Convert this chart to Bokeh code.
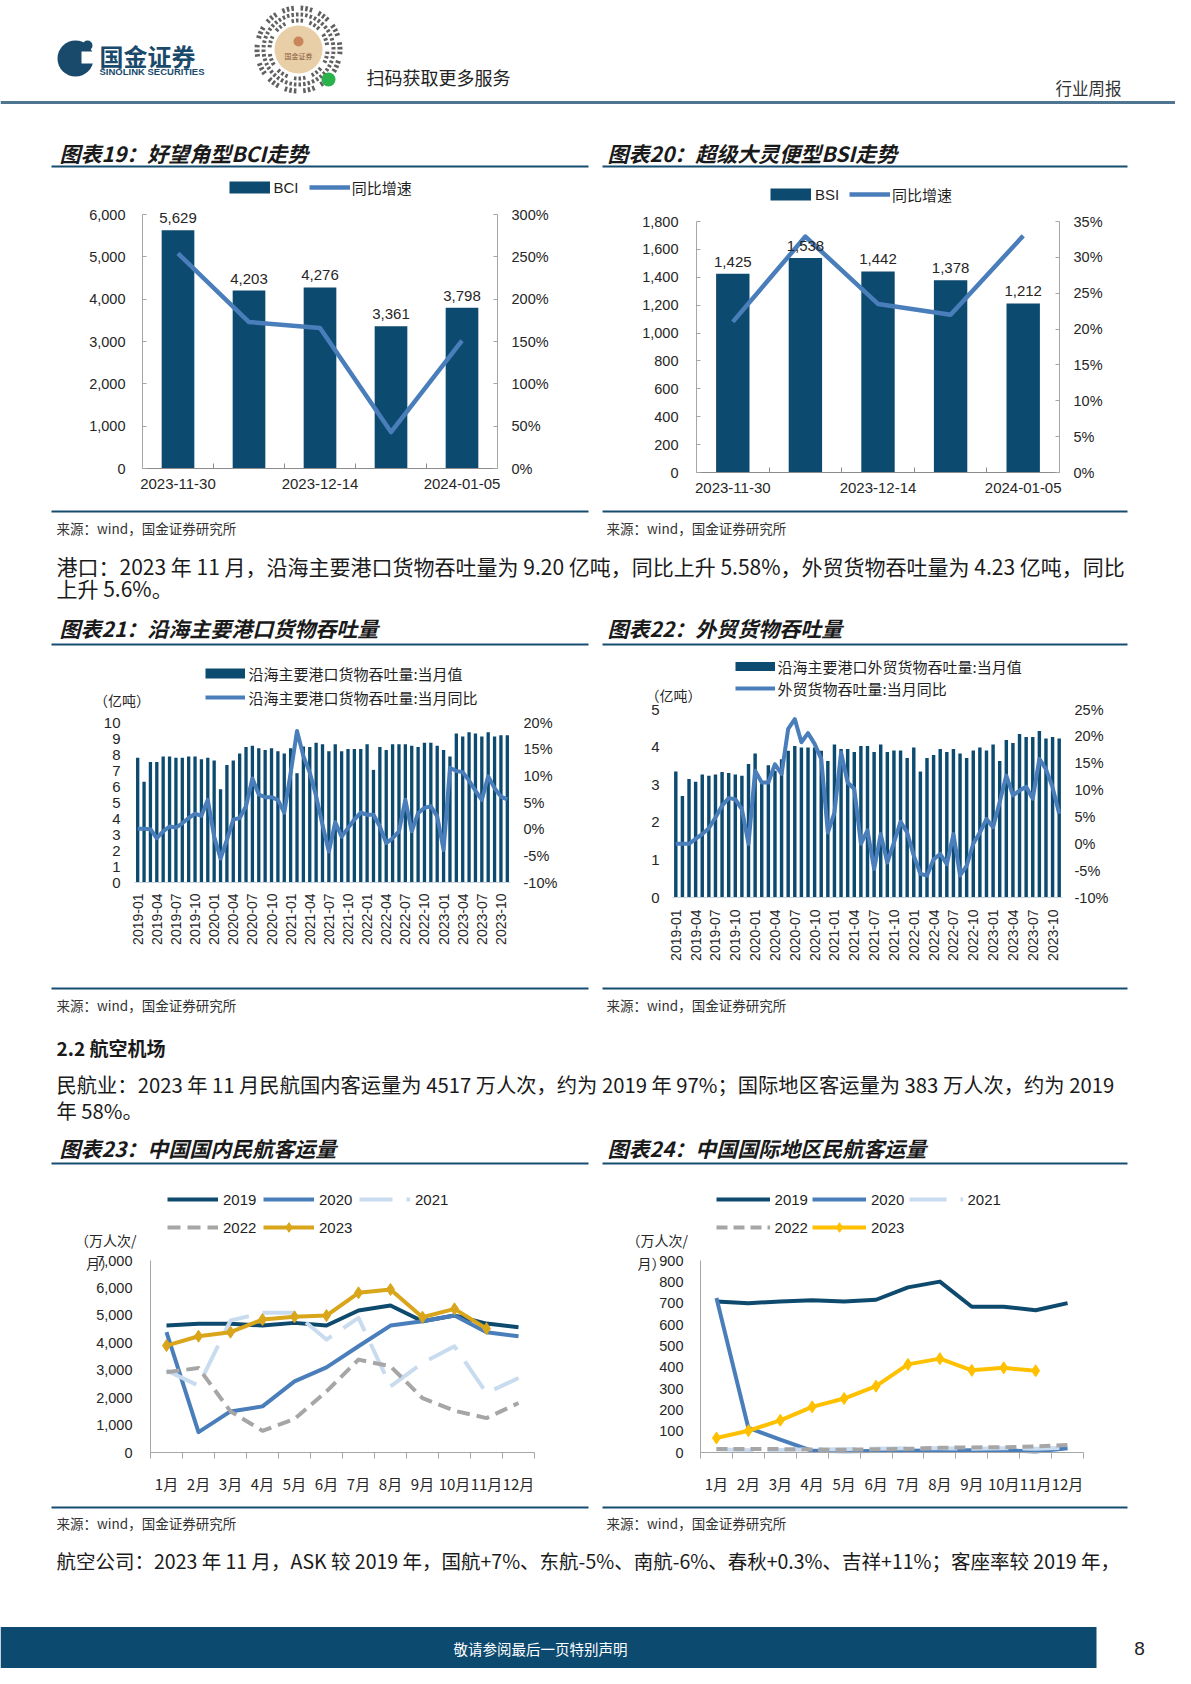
import math
from bokeh.plotting import figure
from bokeh.models import (Range1d, LinearAxis, FixedTicker, Legend, LegendItem,
                          Label, LabelSet, ColumnDataSource, NumeralTickFormatter)
from bokeh.layouts import column, row
from bokeh.embed import file_html
from bokeh.resources import INLINE
from bokeh.core.properties import value

# ---------------- data ----------------
bci_dates = ["2023-11-30", "2023-12-07", "2023-12-14", "2023-12-21", "2024-01-05"]
bci_values = [5629, 4203, 4276, 3361, 3798]
bci_yoy_pct = [254, 173, 166, 43, 151]

bsi_dates = ["2023-11-30", "2023-12-07", "2023-12-14", "2023-12-21", "2024-01-05"]
bsi_values = [1425, 1538, 1442, 1378, 1212]
bsi_yoy_pct = [21.0, 32.9, 23.5, 22.0, 33.0]

port_months = [f"{y}-{m:02d}" for y in range(2019, 2024) for m in range(1, 13)][:59]
port_total = [7.80, 6.29, 7.53, 7.53, 7.88, 7.88, 7.80, 7.80, 7.88, 7.88, 7.71, 7.80,
              7.63, 5.83, 7.34, 7.63, 8.07, 8.47, 8.55, 8.39, 8.28, 8.39, 8.20, 8.07,
              8.39, 6.83, 8.50, 8.47, 8.74, 8.64, 8.20, 8.64, 8.20, 8.34, 8.34, 8.34,
              8.64, 7.04, 8.47, 8.28, 8.64, 8.64, 8.64, 8.55, 8.47, 8.74, 8.74, 8.55,
              8.28, 7.88, 9.31, 9.12, 9.39, 9.31, 9.12, 9.39, 9.12, 9.20, 9.20]
port_yoy_pct = [0.1, 0.1, 0.0, -1.7, -0.4, 0.5, 0.3, 1.1, 2.1, 2.9, 2.5, 5.5,
                -1.4, -5.5, -2.0, 1.8, 2.1, 4.3, 9.5, 6.5, 6.0, 6.0, 5.5, 3.1,
                10.5, 18.4, 13.7, 10.6, 6.2, 0.8, -4.2, 1.3, -1.4, 0.2, 1.8, 3.1,
                2.7, 2.7, 0.5, -2.6, -1.7, -0.4, 5.5, -0.4, 3.0, 4.0, 4.3, 2.4,
                -3.9, 11.5, 10.9, 10.7, 9.1, 7.2, 5.5, 9.9, 7.7, 6.1, 5.58]

foreign_months = port_months
foreign_total = [3.35, 2.70, 3.15, 3.08, 3.27, 3.24, 3.27, 3.34, 3.31, 3.27, 3.24, 3.55,
                 3.83, 3.05, 3.52, 3.37, 3.68, 3.90, 4.03, 3.99, 3.99, 3.99, 3.90, 3.63,
                 4.07, 3.95, 3.95, 3.87, 4.03, 4.03, 3.87, 4.07, 3.87, 3.91, 3.91, 3.71,
                 3.99, 3.35, 3.71, 3.79, 3.95, 3.87, 3.95, 3.83, 3.71, 3.91, 3.99, 3.91,
                 4.07, 3.63, 4.19, 4.11, 4.35, 4.27, 4.27, 4.43, 4.23, 4.27, 4.23]
foreign_yoy_pct = [0.0, 0.0, 0.0, 0.9, 1.8, 2.9, 4.9, 7.1, 8.5, 8.3, 6.4, 0.0,
                   13.6, 11.4, 11.4, 14.8, 13.0, 21.4, 23.2, 18.9, 20.6, 18.6, 15.8, 2.1,
                   5.8, 17.0, 11.4, 10.2, 0.0, 2.5, -4.7, 1.8, -3.5, 0.2, 4.1, 2.1,
                   -2.2, -5.6, -5.9, -2.9, -1.9, -3.8, 1.8, -5.9, -4.1, 0.0, 2.1, 4.6,
                   3.1, 7.8, 12.7, 9.0, 9.9, 10.6, 8.4, 15.8, 13.9, 10.5, 5.6]

months_cn = ["1月", "2月", "3月", "4月", "5月", "6月", "7月", "8月", "9月", "10月", "11月", "12月"]
dom_2019 = [4628, 4690, 4690, 4628, 4726, 4628, 5177, 5360, 4787, 4994, 4700, 4568]
dom_2020 = [4385, 743, 1498, 1681, 2594, 3106, 3873, 4628, 4787, 4994, 4385, 4239]
dom_2021 = [2996, 2436, 4811, 5091, 5091, 4117, 4908, 2411, 3264, 3873, 2168, 2716]
dom_2022 = [2923, 3082, 1498, 792, 1218, 2229, 3386, 3142, 1985, 1523, 1255, 1803]
dom_2023 = [3898, 4239, 4385, 4848, 4945, 4994, 5822, 5944, 4933, 5237, 4517]

intl_2019 = [708, 700, 708, 714, 708, 716, 774, 801, 683, 683, 667, 700]
intl_2020 = [724, 115, 60, 8, 6, 7, 8, 9, 10, 11, 5, 20]
intl_2021 = [15, 10, 12, 14, 15, 18, 20, 20, 18, 20, 18, 22]
intl_2022 = [16, 16, 16, 14, 13, 15, 17, 22, 24, 25, 28, 35]
intl_2023 = [68, 102, 151, 214, 253, 311, 413, 440, 385, 397, 383]

# ---------------- style ----------------
NAVY = "#0d4a6f"
LINEBLUE = "#4a7ebb"
RULE = "#164c6e"
CJK = "Noto Sans CJK SC"
LAT = "Liberation Sans"
TXT = "#1a1a1a"
LEFT_W, RIGHT_W, SPLIT = 580, 595, 588


def no_align(p):
    try:
        p.frame_align = False
    except Exception:
        pass


def page_fig(y0, y1):
    p = figure(width=1175, height=y1 - y0, x_range=Range1d(8, 1183), y_range=Range1d(y1, y0),
               output_backend="svg", toolbar_location=None, min_border=0, title=None,
               x_axis_location=None, y_axis_location=None)
    p.grid.visible = False
    p.outline_line_color = None
    no_align(p)
    return p


def txt(p, x, y, s, size, font=CJK, color=TXT, style="normal", align="left", baseline="middle"):
    p.text(x=[x], y=[y], text=[s], text_font=value(font), text_font_size=value(size),
           text_font_style=value(style), text_color=color, text_align=align, text_baseline=baseline)


def hline(p, x0, x1, y, color=RULE, width=2):
    p.segment(x0=[x0], y0=[y], x1=[x1], y1=[y], line_color=color, line_width=width)


def style_axis(ax, size, standoff, font=LAT, color=None, tick_in=0, tick_out=0, minor_in=0, minor_out=0):
    ax.major_label_text_font = font
    ax.major_label_text_font_size = size
    ax.major_label_text_color = "#262626"
    ax.major_label_standoff = standoff
    ax.axis_line_color = color
    ax.major_tick_line_color = color
    ax.minor_tick_line_color = color
    ax.major_tick_in = tick_in
    ax.major_tick_out = tick_out
    ax.minor_tick_in = minor_in
    ax.minor_tick_out = minor_out


class Box:
    """Page layout of one chart: the figure rectangle (= frame) and the data box in page px.
    Axes are pinned to the data box edges so that every text stays inside the frame."""
    def __init__(self, fig_x0, fig_w, fig_y0, fig_y1, data_box):
        self.fl, self.fr = fig_x0, fig_x0 + fig_w
        self.ft, self.fb = fig_y0, fig_y1
        self.fig_w, self.fig_h = fig_w, fig_y1 - fig_y0
        self.pl, self.pr, self.pt, self.pb = data_box

    def xrng(self, lo, hi):
        s = (hi - lo) / (self.pr - self.pl)
        return Range1d(lo - (self.pl - self.fl) * s, hi + (self.fr - self.pr) * s)

    def yrng(self, lo, hi):
        s = (hi - lo) / (self.pb - self.pt)
        return Range1d(lo - (self.fb - self.pb) * s, hi + (self.pt - self.ft) * s)

    def figure(self, xdom, ydom):
        p = figure(width=self.fig_w, height=self.fig_h, x_range=self.xrng(*xdom),
                   y_range=self.yrng(*ydom), output_backend="svg", toolbar_location=None,
                   title=None, min_border=0)
        p.grid.visible = False
        p.outline_line_color = None
        no_align(p)
        p.yaxis[0].fixed_location = xdom[0]
        p.yaxis[0].bounds = ydom
        p.xaxis[0].fixed_location = ydom[0]
        p.xaxis[0].bounds = xdom
        self.xdom = xdom
        return p

    def right_axis(self, p, lo, hi):
        p.extra_y_ranges = {"r": self.yrng(lo, hi)}
        ra = LinearAxis(y_range_name="r")
        ra.fixed_location = self.xdom[1]
        ra.bounds = (lo, hi)
        p.add_layout(ra, "right")
        return ra

    def key(self, p, renderers, label, gx, gy, gw, font=CJK, size="15px", standoff=4):
        h = 24
        lg = Legend(items=[LegendItem(label=label, renderers=renderers)],
                    location=(gx - self.fl, self.fb - gy - h / 2), orientation="horizontal",
                    glyph_width=gw, glyph_height=h, label_height=h, label_standoff=standoff,
                    padding=0, margin=0, spacing=0, border_line_color=None,
                    background_fill_alpha=0, inactive_fill_alpha=0,
                    label_text_font=font, label_text_font_size=size, label_text_color="#1f1f1f")
        p.add_layout(lg)

    def note(self, p, s, px, py, size="14px"):
        p.add_layout(Label(x=px - self.fl, y=self.fb - py, x_units="screen", y_units="screen",
                           text=s, text_font=CJK, text_font_size=size, text_color="#262626",
                           text_baseline="middle", text_align="left"))


# ---------------- bar + line weekly charts ----------------
def weekly_chart(b, dates, vals, yoy_pct, ymax, ystep, rmax, rstep, key_name, key_pos, stand):
    n = len(vals)
    p = b.figure((-0.5, n - 0.5), (0, ymax))
    ra = b.right_axis(p, 0, rmax)
    xs = list(range(n))
    p.vbar(x=xs, top=vals, width=0.46, fill_color=NAVY, line_color=None)
    ln = p.line(x=xs, y=[v / 100 for v in yoy_pct], y_range_name="r", line_color=LINEBLUE,
                line_width=4.5, line_join="round")
    sw = p.line(x=xs, y=vals, line_color=NAVY, line_width=12, line_cap="butt", visible=False)
    src = ColumnDataSource(dict(x=xs, y=vals, t=[f"{v:,}" for v in vals]))
    p.add_layout(LabelSet(x="x", y="y", text="t", source=src, text_align="center",
                          text_baseline="bottom", y_offset=7, text_font=value(LAT),
                          text_font_size=value("15px"), text_color="#262626"))
    ya = p.yaxis[0]
    ya.ticker = FixedTicker(ticks=list(range(0, ymax + 1, ystep)))
    ya.formatter = NumeralTickFormatter(format="0,0")
    style_axis(ya, "14.5px", stand[0], color="#a6a6a6", tick_in=4)
    ra.ticker = FixedTicker(ticks=[k * rstep / 100 for k in range(int(round(rmax * 100 / rstep)) + 1)])
    ra.formatter = NumeralTickFormatter(format="0%")
    style_axis(ra, "14.5px", stand[1], color="#a6a6a6", tick_in=4)
    xa = p.xaxis[0]
    xa.ticker = FixedTicker(ticks=[0, 2, 4], minor_ticks=[i - 0.5 for i in range(n + 1)])
    xa.major_label_overrides = {i: dates[i] for i in (0, 2, 4)}
    style_axis(xa, "15px", stand[2], color="#8c8c8c", minor_in=5)
    b0, gy, t1 = key_pos
    b.key(p, [sw], key_name, b0, gy, 41, font=LAT, standoff=4)
    b.key(p, [ln], "同比增速", t1, gy, 41, standoff=2)
    return p


p19 = weekly_chart(Box(8, LEFT_W, 180, 515, (150, 505, 222, 476)),
                   bci_dates, bci_values, bci_yoy_pct, 6000, 1000, 3.0, 50, "BCI",
                   (236.5, 195, 316.7), (17, 14, 10))
p20 = weekly_chart(Box(SPLIT, RIGHT_W, 180, 515, (704, 1067, 229, 480)),
                   bsi_dates, bsi_values, bsi_yoy_pct, 1800, 200, 0.35, 5, "BSI",
                   (778, 202, 857), (18, 14, 10))


# ---------------- monthly port charts ----------------
def monthly_chart(b, months, vals, yoy_pct, ymax, rmin, rmax, names, key_x, key_y, sw_h,
                  unit_pos, stand):
    n = len(vals)
    p = b.figure((-0.5, n - 0.5), (0, ymax))
    ra = b.right_axis(p, rmin / 100, rmax / 100)
    xs = list(range(n))
    p.vbar(x=xs, top=vals, width=0.52, fill_color=NAVY, line_color=None)
    ln = p.line(x=xs, y=[v / 100 for v in yoy_pct], y_range_name="r", line_color=LINEBLUE,
                line_width=4, line_join="round")
    sw = p.line(x=xs, y=vals, line_color=NAVY, line_width=sw_h, line_cap="butt", visible=False)
    ya = p.yaxis[0]
    ya.ticker = FixedTicker(ticks=list(range(0, ymax + 1)))
    style_axis(ya, "15px", stand[0])
    ra.ticker = FixedTicker(ticks=[k / 100 for k in range(rmin, rmax + 1, 5)])
    ra.formatter = NumeralTickFormatter(format="0%")
    style_axis(ra, "14.5px", stand[1])
    xa = p.xaxis[0]
    ticks = list(range(0, n, 3))
    xa.ticker = FixedTicker(ticks=ticks)
    xa.major_label_overrides = {i: months[i] for i in ticks}
    xa.major_label_orientation = math.pi / 2
    style_axis(xa, "14px", stand[2], color="#c8d3de")
    b.key(p, [sw], names[0], key_x, key_y[0], 40, standoff=3)
    b.key(p, [ln], names[1], key_x, key_y[1], 40, standoff=3)
    b.note(p, "（亿吨）", unit_pos[0], unit_pos[1])
    return p


p21 = monthly_chart(Box(8, LEFT_W, 655, 993, (142, 518, 730, 890)),
                    port_months, port_total, port_yoy_pct, 10, -10, 20,
                    ["沿海主要港口货物吞吐量:当月值", "沿海主要港口货物吞吐量:当月同比"],
                    213.4, (681, 705), 10, (101.5, 707), (14, 13, 11))
p22 = monthly_chart(Box(SPLIT, RIGHT_W, 655, 993, (680, 1070, 717, 905)),
                    foreign_months, foreign_total, foreign_yoy_pct, 5, -10, 25,
                    ["沿海主要港口外贸货物吞吐量:当月值", "外贸货物吞吐量:当月同比"],
                    742.6, (674, 696), 9, (653, 702.7), (13, 12, 12))


# ---------------- aviation charts ----------------
def air_chart(b, series, ymax, ystep, key_xs, gw, unit_x, stand):
    p = b.figure((0.5, 12.5), (0, ymax))
    rends = []
    for name, vals, color, dash, marker in series:
        xs = list(range(1, len(vals) + 1))
        r = p.line(x=xs, y=vals, line_color=color, line_width=4, line_dash=dash, line_join="round")
        rs = [r]
        if marker:
            rs.append(p.scatter(x=xs, y=vals, marker="diamond", size=12, fill_color=color,
                                line_color=color))
        rends.append((name, rs))
    ya = p.yaxis[0]
    ya.ticker = FixedTicker(ticks=list(range(0, ymax + 1, ystep)))
    ya.formatter = NumeralTickFormatter(format="0,0")
    style_axis(ya, "14.5px", stand[0], color="#a6a6a6")
    xa = p.xaxis[0]
    xa.ticker = FixedTicker(ticks=list(range(1, 13)), minor_ticks=[i + 0.5 for i in range(13)])
    xa.major_label_overrides = {i + 1: months_cn[i] for i in range(12)}
    style_axis(xa, "15px", stand[1], font=CJK, color="#a6a6a6", minor_out=6)
    pos = [(key_xs[0], 1207), (key_xs[1], 1207), (key_xs[2], 1207), (key_xs[0], 1235), (key_xs[1], 1235)]
    for (name, rs), (gx, gy) in zip(rends, pos):
        b.key(p, rs, name, gx, gy, gw, font=LAT, standoff=5)
    b.note(p, "（万人次/", unit_x, 1247)
    b.note(p, "月）", unit_x + 11, 1270)
    return p


dom_series = [("2019", dom_2019, "#0e4a6e", "solid", False),
              ("2020", dom_2020, "#4a7ebb", "solid", False),
              ("2021", dom_2021, "#c9dcef", "33 14", False),
              ("2022", dom_2022, "#a6a6a6", "13 7", False),
              ("2023", dom_2023, "#d9a51a", "solid", True)]
intl_series = [("2019", intl_2019, "#0e4a6e", "solid", False),
               ("2020", intl_2020, "#4a7ebb", "solid", False),
               ("2021", intl_2021, "#c9dcef", "37 14", False),
               ("2022", intl_2022, "#a6a6a6", "11 6", False),
               ("2023", intl_2023, "#ffc000", "solid", True)]

p23 = air_chart(Box(8, LEFT_W, 1175, 1511, (158, 542, 1268, 1460)),
                dom_series, 7000, 1000, (175, 271, 367), 51, 82.5, (18, 14))
p24 = air_chart(Box(SPLIT, RIGHT_W, 1175, 1511, (708, 1091, 1268, 1460)),
                intl_series, 900, 100, (723.6, 820, 916.5), 54, 634, (17, 14))

# ---------------- page text blocks ----------------
SRC = "来源：wind，国金证券研究所"

# header
h = page_fig(8, 180)
h.circle(x=[83], y=[66], radius=18, fill_color="#1a4a6b", line_color=None)
h.quad(left=[89], right=[103], top=[59], bottom=[71], fill_color="white", line_color=None)
h.circle(x=[95], y=[53], radius=5, fill_color="#1a4a6b", line_color=None)
txt(h, 107, 63, "国金证券", "24px", color="#1a4a6b", style="bold")
txt(h, 107, 79, "SINOLINK SECURITIES", "9.5px", font=LAT, color="#1a4a6b", style="bold")
qx, qy = 306, 57
for ri, (r0, r1) in enumerate([(27, 31), (33, 37), (39, 44)]):
    n = 40 + ri * 8
    st, en = [], []
    for k in range(n):
        if (k * (ri + 3) + ri) % 4 != 0:
            a0 = 2 * math.pi * k / n
            st.append(a0)
            en.append(a0 + 2 * math.pi / n * 0.55)
    h.annular_wedge(x=[qx] * len(st), y=[qy] * len(st), inner_radius=r0, outer_radius=r1,
                    start_angle=st, end_angle=en, fill_color="#3a3a3a", line_color=None, fill_alpha=0.8)
h.circle(x=[qx], y=[qy], radius=24, fill_color="#e8cfa8", line_color=None)
h.circle(x=[qx], y=[qy - 8], radius=5, fill_color="#c9865a", line_color=None)
txt(h, qx, qy + 6, "国金证券", "7px", color="#8a5a3a", align="center")
h.circle(x=[336], y=[87], radius=7, fill_color="#2bb24c", line_color=None)
txt(h, 374, 84, "扫码获取更多服务", "18px", color="#222222")
txt(h, 1129, 95, "行业周报", "16.5px", color="#333333", align="right")
hline(h, 8, 1183, 110, color="#4f7590", width=3)
txt(h, 67, 160, "图表19：好望角型BCI走势", "21px", style="bold italic")
txt(h, 615, 160, "图表20：超级大灵便型BSI走势", "21px", style="bold italic")
hline(h, 59, 596, 174)
hline(h, 610, 1135, 174)

# block 1
t1 = page_fig(515, 655)
hline(t1, 59, 596, 519)
hline(t1, 610, 1135, 519)
txt(t1, 64, 535, SRC, "13.5px", color="#333333")
txt(t1, 614, 535, SRC, "13.5px", color="#333333")
txt(t1, 64, 573, "港口：2023 年 11 月，沿海主要港口货物吞吐量为 9.20 亿吨，同比上升 5.58%，外贸货物吞吐量为 4.23 亿吨，同比", "21px")
txt(t1, 64, 595, "上升 5.6%。", "21px")
txt(t1, 67, 635, "图表21：沿海主要港口货物吞吐量", "21px", style="bold italic")
txt(t1, 615, 635, "图表22：外贸货物吞吐量", "21px", style="bold italic")
hline(t1, 59, 596, 652)
hline(t1, 610, 1135, 652)

# block 2
t2 = page_fig(993, 1175)
hline(t2, 59, 596, 996)
hline(t2, 610, 1135, 996)
txt(t2, 64, 1012, SRC, "13.5px", color="#333333")
txt(t2, 614, 1012, SRC, "13.5px", color="#333333")
txt(t2, 64, 1055, "2.2 航空机场", "19px", style="bold")
txt(t2, 64, 1091, "民航业：2023 年 11 月民航国内客运量为 4517 万人次，约为 2019 年 97%；国际地区客运量为 383 万人次，约为 2019", "20.3px")
txt(t2, 64, 1117, "年 58%。", "20.3px")
txt(t2, 67, 1155, "图表23：中国国内民航客运量", "21px", style="bold italic")
txt(t2, 615, 1155, "图表24：中国国际地区民航客运量", "21px", style="bold italic")
hline(t2, 59, 596, 1171)
hline(t2, 610, 1135, 1171)

# block 3
t3 = page_fig(1511, 1676)
hline(t3, 59, 596, 1515)
hline(t3, 610, 1135, 1515)
txt(t3, 64, 1530, SRC, "13.5px", color="#333333")
txt(t3, 614, 1530, SRC, "13.5px", color="#333333")
txt(t3, 64, 1568, "航空公司：2023 年 11 月，ASK 较 2019 年，国航+7%、东航-5%、南航-6%、春秋+0.3%、吉祥+11%；客座率较 2019 年，", "19.5px")
t3.quad(left=[8], right=[1104], top=[1634.5], bottom=[1676], fill_color="#0d4a6f", line_color=None)
txt(t3, 548, 1656, "敬请参阅最后一页特别声明", "14.5px", color="white", align="center")
txt(t3, 1147, 1656, "8", "19px", font=LAT, color="#222222", align="center")

layout = column(h, row(p19, p20), t1, row(p21, p22), t2, row(p23, p24), t3)
open("out.html", "w").write(file_html(layout, INLINE))
